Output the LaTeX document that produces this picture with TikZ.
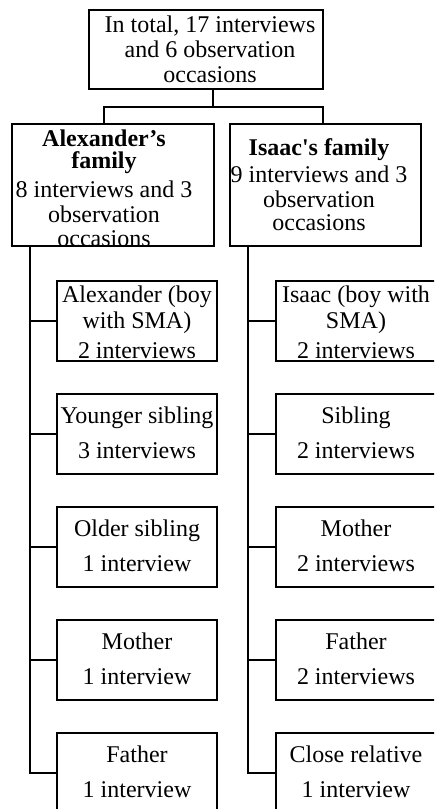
\documentclass[tikz,border=0pt]{standalone}
\usepackage{fontspec}
\setmainfont{Liberation Serif}
\newcommand\fl{\rule{0pt}{22pt}}
\newcommand\sq{\XeTeXglyph\XeTeXcharglyph"0027\relax}
\begin{document}
\begin{tikzpicture}[x=1pt,y=-1pt,
  box/.style={draw, line width=2.4pt, inner sep=0pt, outer sep=0pt, minimum width=160pt, minimum height=80pt},
  txt/.style={inner sep=0pt, outer sep=0pt, align=center, anchor=north, font=\fontsize{24pt}{25pt}\selectfont},
  conn/.style={line width=2.6pt}]
\useasboundingbox (0,0) rectangle (434,809);
\clip (0,0) rectangle (434,809);
\fill[white] (0,0) rectangle (434,809);
% boxes
\node[box, minimum width=234pt, minimum height=79pt] (top) at (206,49.5) {};
\node[box, minimum width=202pt, minimum height=122pt] (alex) at (113,185) {};
\node[box, minimum width=191pt, minimum height=122pt] (isaac) at (325.5,185) {};
\foreach \n/\y in {1/321,2/434,3/547,4/660,5/773} {
  \node[box] (a\n) at (137,\y) {};
  \node[box] (i\n) at (356,\y) {};
}
% connectors
\coordinate (jt) at (213,107);
\coordinate (jl) at (104,107);
\coordinate (jr) at (323,107);
\coordinate (tl) at (30,0);
\coordinate (tr) at (248,0);
\draw[conn] (top.south -| jt) -- (jt);
\draw[conn] (alex.north -| jl) -- (jl) -- (jr) -- (isaac.north -| jr);
\draw[conn] (alex.south -| tl) -- (a5.west -| tl) -- (a5.west);
\draw[conn] (isaac.south -| tr) -- (i5.west -| tr) -- (i5.west);
\foreach \n in {1,2,3,4} {
  \draw[conn] (a\n.west -| tl) -- (a\n.west);
  \draw[conn] (i\n.west -| tr) -- (i\n.west);
}
% texts
\node[txt] (ttop) at (210,10) {\fl In total, 17 interviews\\and 6 observation\\occasions};
\node[txt] (talex) at (104,124) {\fl\textbf{Alexander’s}\\[-3pt]\textbf{family}\\[4pt]8 interviews and 3\\observation\\[-1pt]occasions};
\node[txt] (tisaac) at (319,133) {\fl\textbf{Isaac\sq s family}\\[2pt]9 interviews and 3\\observation\\[-2pt]occasions};
\node[txt] (ta1) at (137,280) {\fl Alexander (boy\\[1pt]with SMA)\\[5pt]2 interviews};
\node[txt] (ti1) at (356,280) {\fl Isaac (boy with\\[1pt]SMA)\\[5pt]2 interviews};
\node[txt] (ta2) at (137,401) {\fl Younger sibling\\[10pt]3 interviews};
\node[txt] (ti2) at (356,401) {\fl Sibling\\[10pt]2 interviews};
\node[txt] (ta3) at (137,514) {\fl Older sibling\\[10pt]1 interview};
\node[txt] (ti3) at (356,514) {\fl Mother\\[10pt]2 interviews};
\node[txt] (ta4) at (137,627) {\fl Mother\\[10pt]1 interview};
\node[txt] (ti4) at (356,627) {\fl Father\\[10pt]2 interviews};
\node[txt] (ta5) at (137,740) {\fl Father\\[10pt]1 interview};
\node[txt] (ti5) at (356,740) {\fl Close relative\\[10pt]1 interview};
\end{tikzpicture}
\end{document}
